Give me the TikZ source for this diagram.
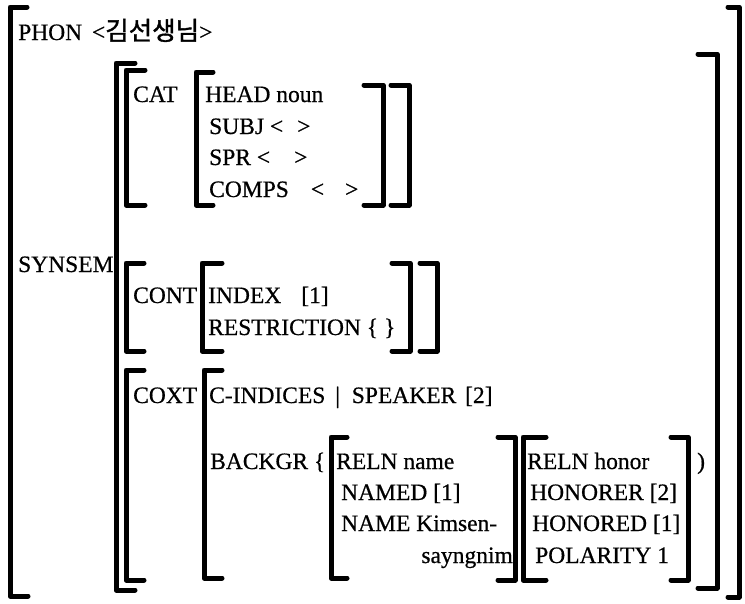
\documentclass[tikz,border=0pt]{standalone}
\usepackage{fontspec}
\setmainfont{Liberation Serif}[FakeBold=0.6]
\newfontfamily\krfont{Noto Sans CJK KR}[FakeBold=1.5]
\begin{document}
\begin{tikzpicture}[x=1pt,y=-1pt,
  br/.style={line width=5pt, line cap=round, line join=round},
  lbl/.style={anchor=base west, inner sep=0pt, font=\fontsize{23.5}{24}\selectfont}]
\useasboundingbox (0,0) rectangle (745,603);
% ---- brackets
% outer
\draw[br] (27,7) -- (10,7) -- (10,596) -- (28,596);
\draw[br] (728,7) -- (739,7) -- (739,597) -- (728,597);
% SYNSEM
\draw[br] (135,63) -- (116,63) -- (116,590) -- (135,590);
\draw[br] (698,54) -- (717,54) -- (717,588) -- (698,588);
% CAT
\draw[br] (145,70) -- (126,70) -- (126,205) -- (145,205);
\draw[br] (391,85) -- (409,85) -- (409,205) -- (391,205);
\draw[br] (213,72) -- (196,72) -- (196,205) -- (213,205);
\draw[br] (364,85) -- (383,85) -- (383,205) -- (364,205);
% CONT
\draw[br] (144,263) -- (126,263) -- (126,351) -- (144,351);
\draw[br] (222,263) -- (202,263) -- (202,351) -- (222,351);
\draw[br] (392,263) -- (410,263) -- (410,351) -- (392,351);
\draw[br] (420,263) -- (437,263) -- (437,351) -- (420,351);
% COXT
\draw[br] (144,370) -- (126,370) -- (126,580) -- (144,580);
\draw[br] (222,370) -- (204,370) -- (204,578) -- (222,578);
% RELN name
\draw[br] (347,437) -- (331,437) -- (331,578) -- (347,578);
\draw[br] (498,437) -- (515,437) -- (515,580) -- (498,580);
% RELN honor
\draw[br] (546,437) -- (523,437) -- (523,580) -- (546,580);
\draw[br] (671,437) -- (688,437) -- (688,580) -- (671,580);
% ---- texts
\node[lbl] (phon) at (18,40) {PHON\hspace{4pt} <{\krfont\fontsize{25.5}{26}\selectfont 김선생님}>};
\node[lbl] (synsem) at (18,272) {SYNSEM};
\node[lbl] (cat) at (133,102) {CAT};
\node[lbl] (head) at (205,102) {HEAD noun};
\node[lbl] (subj) at (209,134) {SUBJ <\hspace{14pt}>};
\node[lbl] (spr) at (209,165) {SPR <\hspace{24pt}>};
\node[lbl] (comps) at (209,197) {COMPS\hspace{22pt}<\hspace{21pt}>};
\node[lbl] (cont) at (133,303) {CONT};
\node[lbl] (index) at (208,303) {INDEX\hspace{20pt}[1]};
\node[lbl] (restr) at (208,335) {RESTRICTION \{\hspace{6pt}\}};
\node[lbl] (coxt) at (133,403) {COXT};
\node[lbl] (cind) at (209,403) {C-INDICES\hspace{4pt} |\hspace{6pt} SPEAKER\hspace{3pt} [2]};
\node[lbl] (backgr) at (210,469) {BACKGR \{};
\node[lbl] (reln1) at (336,469) {RELN name};
\node[lbl] (named) at (341,500) {NAMED [1]};
\node[lbl] (name) at (341,531) {NAME Kimsen-};
\node[lbl, anchor=base east] (sayng) at (513,563) {sayngnim};
\node[lbl] (reln2) at (527,469) {RELN honor};
\node[lbl] (honorer) at (530,500) {HONORER [2]};
\node[lbl] (honored) at (532,531) {HONORED [1]};
\node[lbl] (polar) at (535,563) {POLARITY 1};
\node[lbl] (paren) at (697,469) {)};
\end{tikzpicture}
\end{document}
